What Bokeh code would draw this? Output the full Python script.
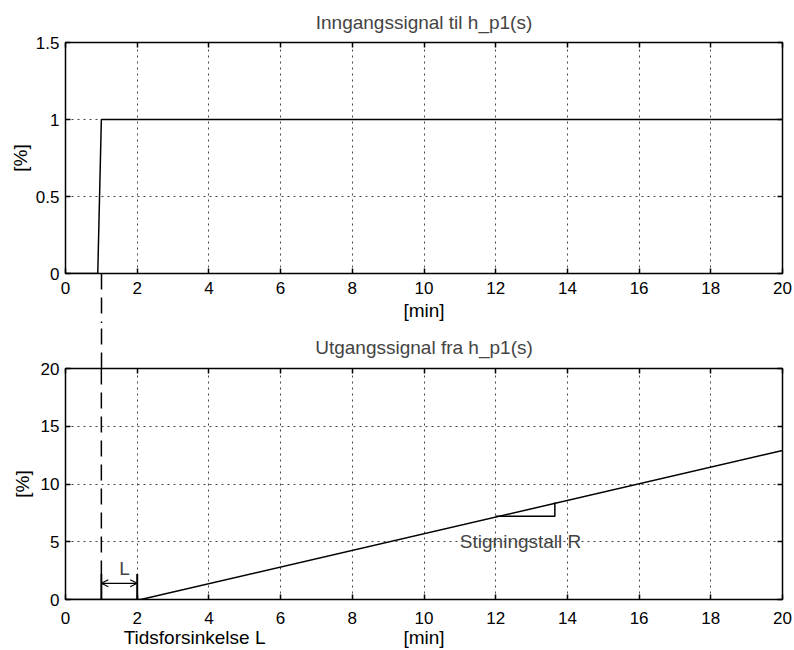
from bokeh.plotting import figure
from bokeh.layouts import column
from bokeh.models import (LinearAxis, Range1d, FixedTicker, Arrow, OpenHead, Label)
from bokeh.embed import file_html
from bokeh.resources import INLINE

# ---------------- data ----------------
x_ticks = [0, 2, 4, 6, 8, 10, 12, 14, 16, 18, 20]
top_y_ticks = [0, 0.5, 1, 1.5]
bot_y_ticks = [0, 5, 10, 15, 20]

t_in = [0, 0.9, 1.0, 20]
u_in = [0, 0, 1, 1]

t_out = [0, 2.1, 20]
y_out = [0, 0, 12.9]

step_time = 1.0
delay_end = 2.0
dim_top = 2.2
arrow_y = 1.4

slope_x = [12, 13.65, 13.65]
slope_y = [7.2, 7.2, 8.4]

title_top = "Inngangssignal til h_p1(s)"
title_bot = "Utgangssignal fra h_p1(s)"
xlabel = "[min]"
ylabel = "[%]"
delay_label = "Tidsforsinkelse L"
slope_label = "Stigningstall R"

FONT = "Liberation Sans"
W = 794
TXT = "19px"
TICK = "17px"
DASH = "16 8"


def style(p, yticks, label_standoff, x_standoff, title_standoff):
    p.outline_line_color = "black"
    p.outline_line_width = 1.5
    p.title.text_font = FONT
    p.title.text_font_size = TXT
    p.title.text_font_style = "normal"
    p.title.align = "center"
    p.title.standoff = title_standoff
    for ax in p.xaxis + p.yaxis:
        ax.major_label_text_font = FONT
        ax.major_label_text_font_size = TICK
        ax.axis_label_text_font = FONT
        ax.axis_label_text_font_size = TXT
        ax.axis_label_text_font_style = "normal"
        ax.major_tick_in = 5
        ax.major_tick_out = 0
        ax.minor_tick_in = 0
        ax.minor_tick_out = 0
        ax.axis_line_color = "black"
        ax.major_tick_line_color = "black"
        ax.major_tick_line_width = 1.5
        ax.major_label_text_color = "black"
        ax.axis_label_text_color = "black"
    p.xaxis.ticker = FixedTicker(ticks=x_ticks)
    p.yaxis.ticker = FixedTicker(ticks=yticks)
    p.xaxis.major_label_standoff = x_standoff
    p.yaxis.axis_label = ylabel
    p.yaxis.axis_label_standoff = label_standoff
    p.yaxis.major_label_standoff = 6
    p.grid.grid_line_color = "#444444"
    p.grid.grid_line_dash = "2 4"
    p.grid.grid_line_width = 1
    p.xgrid.ticker = FixedTicker(ticks=x_ticks[1:-1])
    p.ygrid.ticker = FixedTicker(ticks=yticks[1:-1])
    # ticks on top and right (box style): unlabelled minor ticks
    for loc, tk in (("above", x_ticks), ("right", yticks)):
        ax = LinearAxis(ticker=FixedTicker(ticks=[], minor_ticks=tk))
        ax.major_tick_in = 0
        ax.major_tick_out = 0
        ax.minor_tick_in = 5
        ax.minor_tick_out = 0
        ax.minor_tick_line_width = 1.5
        ax.minor_tick_line_color = "black"
        ax.axis_line_color = "black"
        p.add_layout(ax, loc)


def dashed_minor(ax):
    # one long dashed minor tick at the step time, pointing outward
    # (negative inward length so that it does not enlarge the axis panel)
    ax.minor_tick_in = -70
    ax.minor_tick_out = 0
    ax.minor_tick_line_color = "black"
    ax.minor_tick_line_width = 1.5
    ax.minor_tick_line_dash = DASH


# ---------------- top ----------------
H1 = 323
p1 = figure(width=W, height=H1, output_backend="svg", toolbar_location=None,
            x_range=Range1d(0, 20), y_range=Range1d(0, 1.5), title=title_top,
            min_border_left=65, min_border_right=11, min_border_top=41,
            min_border_bottom=H1 - 275)
main_x1 = p1.below[0]
style(p1, top_y_ticks, 2, 8, 19)
main_x1.axis_label = xlabel
main_x1.axis_label_standoff = 3
main_x1.ticker = FixedTicker(ticks=x_ticks, minor_ticks=[step_time])
dashed_minor(main_x1)
p1.line(t_in, u_in, line_color="black", line_width=1.5)

# ---------------- bottom ----------------
H2 = 650 - H1
p2 = figure(width=W, height=H2, output_backend="svg", toolbar_location=None,
            x_range=Range1d(0, 20), y_range=Range1d(0, 20), title=title_bot,
            min_border_left=63, min_border_right=12, min_border_top=368 - H1,
            min_border_bottom=H1 + H2 - 601)
style(p2, bot_y_ticks, 5, 12, 22)
dash_ax = LinearAxis(ticker=FixedTicker(ticks=[], minor_ticks=[step_time]))
dash_ax.axis_line_color = None
dash_ax.major_tick_in = 0
dash_ax.major_tick_out = 0
dashed_minor(dash_ax)
p2.add_layout(dash_ax, "above")

# second row under the tick labels: "Tidsforsinkelse L" and "[min]"
lab_ax = LinearAxis(ticker=FixedTicker(ticks=[3.6, 10]),
                    major_label_overrides={3.6: delay_label, 10: xlabel})
lab_ax.major_tick_in = 0
lab_ax.major_tick_out = 0
lab_ax.minor_tick_in = 0
lab_ax.minor_tick_out = 0
lab_ax.axis_line_color = None
lab_ax.major_label_standoff = 0
lab_ax.major_label_text_font = FONT
lab_ax.major_label_text_font_size = TXT
lab_ax.major_label_text_color = "black"
p2.add_layout(lab_ax, "below")

p2.line(t_out, y_out, line_color="black", line_width=1.5)
p2.line(slope_x, slope_y, line_color="black", line_width=1.5)
p2.segment(x0=[step_time, delay_end], y0=[0, 0], x1=[step_time, delay_end],
           y1=[dim_top, dim_top], line_color="black", line_width=2)
p2.segment(x0=[step_time], y0=[20], x1=[step_time], y1=[dim_top],
           line_color="black", line_width=1.5, line_dash=DASH)
p2.add_layout(Arrow(x_start=step_time, y_start=arrow_y, x_end=delay_end, y_end=arrow_y,
                    start=OpenHead(size=7, line_width=1.2), end=OpenHead(size=7, line_width=1.2),
                    line_color="black", line_width=1.2))
p2.add_layout(Label(x=1.65, y=1.75, text="L", text_font=FONT, text_font_size=TXT,
                    text_align="center", text_baseline="bottom"))
p2.add_layout(Label(x=11.0, y=5.0, text=slope_label, text_font=FONT,
                    text_font_size=TXT, text_align="left", text_baseline="middle"))

layout = column(p1, p2, spacing=0)
open("out.html", "w").write(file_html(layout, INLINE))
